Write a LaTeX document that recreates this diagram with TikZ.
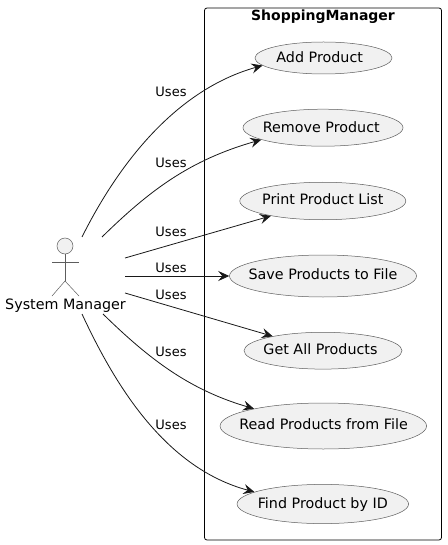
\documentclass[tikz,border=0pt]{standalone}
\usepackage{fontspec}
\setmainfont{DejaVu Sans}
\usetikzlibrary{positioning,shapes.geometric,arrows.meta}
\definecolor{ink}{HTML}{181818}
\definecolor{usefill}{HTML}{F1F1F1}
\newcommand{\uctext}[3]{\makebox[0pt]{\hspace*{#1pt}\raisebox{-#2pt}[0pt][0pt]{#3}}}

\begin{document}
\begin{tikzpicture}[x=1pt, y=-1pt, ink, line width=0.5pt,
  usecase/.style = {draw=ink!70, ellipse, fill=usefill, inner sep=0pt, text=black, font=\fontsize{14.3}{16}\selectfont},
  uses/.style = {-{Stealth[length=11pt, width=10pt, inset=4pt]}, line width=0.8pt},
  usestext/.style = {font=\fontsize{13}{15}\selectfont, inner sep=0pt, text=black},
  stick/.style = {line width=0.5pt, ink!70}]
\useasboundingbox (0,0) rectangle (447,545);
\draw[rounded corners=2.5pt, line width=0.8pt, black] (204.5,8) rectangle (441.5,540);
\node[font=\bfseries\fontsize{14}{16}\selectfont, inner sep=0pt, black] (title) at (323,17) {ShoppingManager};
\node[usecase, minimum width=137pt, minimum height=32pt] (add) at (323.5,58) {\uctext{-7.6}{4.6}{Add Product}};
\node[usecase, minimum width=160pt, minimum height=37pt] (remove) at (323,127.7) {\uctext{-3.4}{4.4}{Remove Product}};
\node[usecase, minimum width=166pt, minimum height=37.5pt] (print) at (322.8,201) {\uctext{0}{3}{Print Product List}};
\node[usecase, minimum width=187pt, minimum height=42pt] (save) at (323,276) {\uctext{0}{3.3}{Save Products to File}};
\node[usecase, minimum width=158pt, minimum height=36.8pt] (get) at (323,350.7) {\uctext{-5}{3.3}{Get All Products}};
\node[usecase, minimum width=206.5pt, minimum height=46pt] (read) at (323.3,426) {\uctext{0.5}{3}{Read Products from File}};
\node[usecase, minimum width=171.5pt, minimum height=39.2pt] (find) at (322.8,504) {\uctext{0}{4}{Find Product by ID}};
% actor
\node[draw=ink!70, circle, fill=usefill, minimum size=16pt, inner sep=0pt] (head) at (65,246) {};
\coordinate (armL) at (52,262);
\coordinate (armR) at (79,262);
\coordinate (hip) at (65,281);
\coordinate (legL) at (52,296);
\coordinate (legR) at (79,296);
\draw[stick] (head) -- (hip);
\draw[stick] (armL) -- (armR);
\draw[stick] (legL) -- (hip) -- (legR);
\node[font=\fontsize{14.3}{16}\selectfont, inner sep=0pt, black] (actor) at (65.5,306) {System Manager};
% free ends
\coordinate (s1) at (82,237);
\coordinate (s2) at (102,237);
\coordinate (s3) at (125,258);
\coordinate (s4) at (125,276);
\coordinate (s5) at (125,293);
\coordinate (s6) at (103,314);
\coordinate (s7) at (82,314);
\draw[uses] (s1) .. controls (118,165) and (175,90) .. (add.187);
\draw[uses] (s2) .. controls (150,190) and (190,160) .. (remove.191);
\draw[uses] (s3) -- (print.196.4);
\draw[uses] (s4) -- (save);
\draw[uses] (s5) -- (get.164.6);
\draw[uses] (s6) .. controls (150,360) and (190,390) .. (read.166.4);
\draw[uses] (s7) .. controls (115,385) and (165,468) .. (find.170.8);
\node[usestext] (u1) at (171,92) {Uses};
\node[usestext] (u2) at (171,163) {Uses};
\node[usestext] (u3) at (171,232) {Uses};
\node[usestext] (u4) at (171,268) {Uses};
\node[usestext] (u5) at (171,295) {Uses};
\node[usestext] (u6) at (171,352) {Uses};
\node[usestext] (u7) at (171,425) {Uses};
\end{tikzpicture}
\end{document}
